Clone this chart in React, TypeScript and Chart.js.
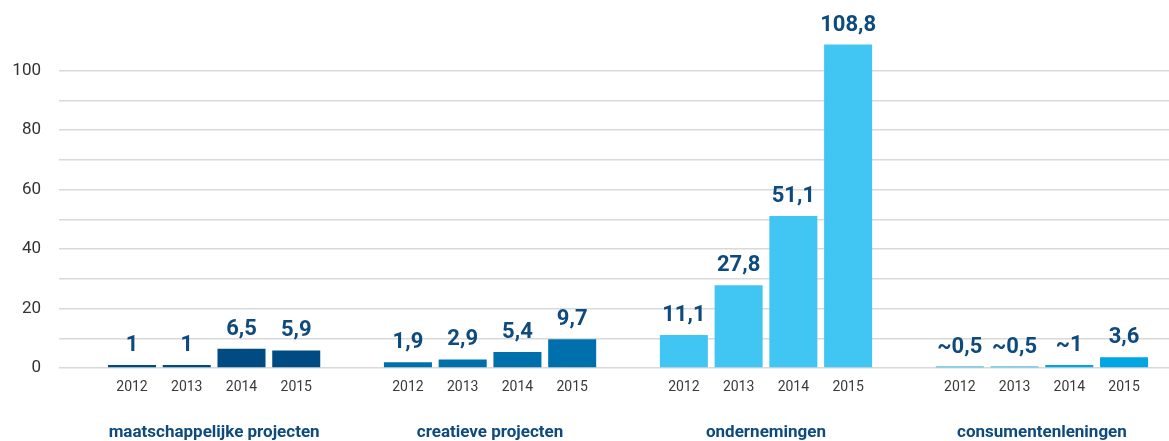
import React, { useEffect, useRef } from 'react';
import { Chart, registerables } from 'chart.js';

Chart.register(...registerables);

const groups = ['maatschappelijke projecten', 'creatieve projecten', 'ondernemingen', 'consumentenleningen'];
const years = ['2012', '2013', '2014', '2015'];

const maatschappelijkeValues = [1, 1, 6.5, 5.9];
const creatieveValues = [1.9, 2.9, 5.4, 9.7];
const ondernemingenValues = [11.1, 27.8, 51.1, 108.8];
const consumentenValues = [0.5, 0.5, 1, 3.6];

const maatschappelijkeLabels = ['1', '1', '6,5', '5,9'];
const creatieveLabels = ['1,9', '2,9', '5,4', '9,7'];
const ondernemingenLabels = ['11,1', '27,8', '51,1', '108,8'];
const consumentenLabels = ['~0,5', '~0,5', '~1', '3,6'];

const groupColors = ['#004b82', '#0070ac', '#41c6f4', '#00a6e4'];

const yTickValues = [0, 20, 40, 60, 80, 100];

const allValues = [maatschappelijkeValues, creatieveValues, ondernemingenValues, consumentenValues];
const allLabels = [maatschappelijkeLabels, creatieveLabels, ondernemingenLabels, consumentenLabels];

const GROUP_STRIDE = 5.04;
const X_MIN = -1.3333;
const X_MAX = 18.941;

const points: { x: number; y: number }[] = [];
const colors: string[] = [];
const labelTexts: string[] = [];
allValues.forEach((vals, g) => {
  vals.forEach((v, i) => {
    points.push({ x: g * GROUP_STRIDE + i, y: v });
    colors.push(groupColors[g]);
    labelTexts.push(allLabels[g][i]);
  });
});
const yearTickPositions = points.map((p) => p.x);
const groupTickPositions = groups.map((_, g) => g * GROUP_STRIDE + 1.5);

const valueLabelPlugin = {
  id: 'valueLabels',
  afterDatasetsDraw(chart: any) {
    const ctx = chart.ctx;
    const meta = chart.getDatasetMeta(0);
    ctx.save();
    ctx.font = 'bold 22px Roboto';
    ctx.fillStyle = '#0d4a7e';
    ctx.textAlign = 'center';
    ctx.textBaseline = 'alphabetic';
    meta.data.forEach((el: any, i: number) => {
      ctx.fillText(labelTexts[i], el.x, el.y - 14);
    });
    ctx.restore();
  },
};

export default function App() {
  const ref = useRef<HTMLCanvasElement | null>(null);
  useEffect(() => {
    if (!ref.current) return;
    const chart = new Chart(ref.current, {
      type: 'bar',
      data: {
        datasets: [
          {
            data: points,
            backgroundColor: colors,
            borderWidth: 0,
            barPercentage: 0.877,
            categoryPercentage: 1,
          },
        ],
      },
      options: {
        animation: false,
        responsive: false,
        maintainAspectRatio: false,
        layout: { padding: { top: 41, left: 0, right: 0, bottom: 0 } },
        plugins: { legend: { display: false }, tooltip: { enabled: false } },
        scales: {
          x: {
            type: 'linear',
            position: 'bottom',
            min: X_MIN,
            max: X_MAX,
            offset: false,
            grid: { display: false, drawTicks: false },
            border: { display: false },
            afterBuildTicks: (axis: any) => {
              axis.ticks = yearTickPositions.map((v) => ({ value: v }));
            },
            afterFit: (axis: any) => {
              axis.height = 30;
            },
            ticks: {
              autoSkip: false,
              maxRotation: 0,
              padding: 11,
              color: '#3a3a3a',
              font: { family: 'Roboto', size: 14 },
              callback: (_v: any, index: number) => years[index % years.length],
            },
          },
          x2: {
            type: 'linear',
            position: 'bottom',
            min: X_MIN,
            max: X_MAX,
            offset: false,
            grid: { display: false, drawTicks: false },
            border: { display: false },
            afterBuildTicks: (axis: any) => {
              axis.ticks = groupTickPositions.map((v) => ({ value: v }));
            },
            afterFit: (axis: any) => {
              axis.height = 43;
            },
            ticks: {
              autoSkip: false,
              maxRotation: 0,
              padding: 25,
              color: '#0d4a7e',
              font: { family: 'Roboto', size: 17, weight: 'bold' },
              callback: (_v: any, index: number) => groups[index],
            },
          },
          y: {
            type: 'linear',
            min: 0,
            max: 110,
            border: { display: false },
            afterFit: (axis: any) => {
              axis.width = 59;
            },
            grid: {
              drawTicks: false,
              lineWidth: 1.5,
              color: (c: any) => (c.tick && c.tick.value > 100 ? 'rgba(0,0,0,0)' : '#d9d9d9'),
            },
            ticks: {
              stepSize: 10,
              padding: 18,
              color: '#333333',
              font: { family: 'Roboto', size: 17 },
              callback: (v: any) => (yTickValues.includes(Number(v)) ? String(v) : ''),
            },
          },
        },
      } as any,
      plugins: [valueLabelPlugin],
    });
    return () => chart.destroy();
  }, []);
  return (
    <div style={{ position: 'fixed', left: 0, top: 0, width: 1169, height: 441, background: '#ffffff' }}>
      <canvas ref={ref} width={1169} height={441} style={{ width: 1169, height: 441, display: 'block' }} />
    </div>
  );
}
